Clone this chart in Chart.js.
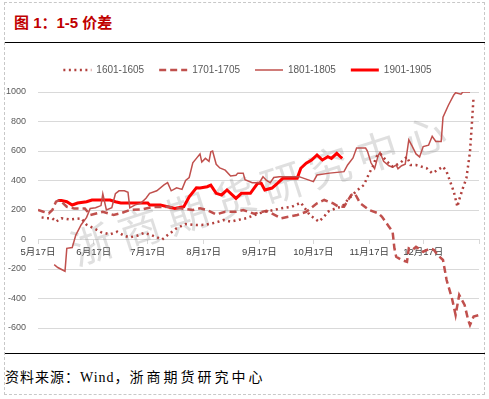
<!DOCTYPE html>
<html>
<head>
<meta charset="utf-8">
<script src="https://cdn.jsdelivr.net/npm/chart.js@4/dist/chart.umd.min.js"></script>
<style>
  body { margin: 0; background: #fff; }
  #frame { position: absolute; left: 4px; top: 2px; width: 481px; height: 393px; border: 1px dashed #c8c8c8; box-sizing: border-box; }
  #title { position: absolute; left: 14px; top: 11px; font: bold 15px "Liberation Sans", "Noto Sans CJK SC", sans-serif; color: #c00000; }
  .rule { position: absolute; left: 5px; width: 480px; border-top: 1.5px solid #000; }
  #wrap { position: absolute; left: 0; top: 45px; width: 489px; height: 305px; }
  #source { position: absolute; left: 5px; top: 366px; font: 14px "Liberation Serif", "Noto Sans CJK SC", serif; color: #000; white-space: nowrap; }
  #source .a { letter-spacing: 1px; }
  #source .b { letter-spacing: 3px; }
</style>
</head>
<body>
<div id="frame"></div>
<div id="title">图 1：1-5 价差</div>
<div class="rule" style="top:42px"></div>
<div id="wrap"><canvas id="spreadChart" width="489" height="305"></canvas></div>
<div class="rule" style="top:353px"></div>
<div id="source"><span class="a">资料来源：Wind，</span><span class="b">浙商期货研究中心</span></div>
<script>
// x = days since 5月17日
const tickDays = [0, 31, 61, 92, 123, 153, 184, 214, 245];
const tickLabels = ['5月17日', '6月17日', '7月17日', '8月17日', '9月17日', '10月17日', '11月17日', '12月17日', ''];

const days1601 = [2, 5, 8, 10, 13, 18, 21, 24, 27, 31, 35, 40, 44, 48, 51, 55, 59, 63, 66, 69, 72, 77, 82, 88, 93, 97, 100, 103, 107, 111, 116, 118, 123, 127, 131, 135, 141, 146, 151, 156, 159, 161, 166, 169, 172, 177, 181, 184, 186, 188, 190, 194, 197, 201, 205, 207, 210, 213, 216, 219, 222, 225, 227, 229, 231, 233, 234, 236, 238, 240, 241, 242];
const vals1601 = [150, 144, 144, 121, 144, 135, 140, 144, 100, 76, 50, 35, 53, 25, 15, 25, 45, 30, 15, 0, 30, 76, 105, 98, 100, 110, 120, 132, 121, 132, 145, 155, 178, 190, 200, 211, 222, 250, 166, 121, 155, 188, 215, 222, 268, 330, 369, 449, 494, 561, 584, 527, 494, 517, 561, 505, 505, 494, 483, 449, 471, 494, 460, 392, 324, 222, 270, 347, 415, 595, 776, 968];

const days1701 = [0, 3, 6, 8, 10, 12, 16, 20, 26, 29, 33, 36, 42, 46, 51, 58, 64, 72, 79, 86, 90, 94, 99, 104, 110, 114, 120, 127, 135, 144, 149, 155, 159, 164, 167, 170, 174, 176, 179, 184, 189, 191, 195, 197, 198, 199, 202, 205, 206, 208, 210, 214, 218, 220, 222, 225, 227, 230, 232, 234, 237, 239, 240, 242, 245];
const vals1701 = [200, 188, 178, 200, 256, 268, 222, 211, 211, 166, 178, 188, 166, 178, 200, 205, 220, 222, 211, 200, 211, 200, 170, 188, 188, 200, 175, 195, 144, 166, 188, 245, 268, 245, 222, 222, 302, 313, 245, 200, 178, 155, 87, 53, -60, -117, -139, -151, -60, -71, -49, -83, -60, -71, -105, -139, -275, -400, -512, -376, -444, -546, -580, -523, -512];

const days1801 = [9, 11, 15, 16, 19, 21, 24, 27, 29, 32, 35, 36, 38, 41, 43, 45, 48, 50, 51, 54, 57, 60, 62, 66, 70, 72, 74, 77, 80, 82, 84, 86, 88, 90, 91, 93, 95, 96, 97, 99, 101, 104, 107, 110, 111, 114, 115, 119, 123, 125, 127, 129, 131, 134, 145, 153, 155, 162, 170, 172, 175, 177, 182, 183, 185, 187, 189, 190, 192, 195, 197, 199, 200, 202, 204, 205, 206, 208, 210, 212, 214, 217, 219, 221, 224, 225, 228, 231, 232, 235, 236, 240];
const vals1801 = [-170, -190, -215, -60, -55, 30, 100, 150, 210, 215, 230, 310, 200, 215, 310, 330, 330, 320, 215, 235, 245, 280, 313, 330, 370, 385, 330, 350, 340, 400, 420, 520, 550, 580, 525, 550, 530, 595, 600, 510, 485, 470, 430, 435, 450, 450, 405, 385, 385, 425, 400, 385, 420, 426, 426, 392, 437, 450, 460, 505, 553, 620, 620, 600, 520, 480, 570, 590, 530, 500, 490, 505, 480, 500, 510, 590, 675, 630, 580, 560, 630, 640, 700, 665, 665, 830, 910, 980, 995, 985, 1000, 1000];

const days1901 = [11, 13, 16, 19, 22, 27, 30, 34, 40, 43, 46, 53, 61, 62, 68, 76, 81, 84, 88, 90, 94, 96, 99, 102, 105, 110, 113, 118, 122, 124, 126, 130, 133, 136, 144, 146, 149, 152, 155, 157, 158, 161, 163, 166, 168, 169];
const vals1901 = [265, 265, 256, 234, 247, 256, 268, 268, 268, 256, 247, 247, 247, 234, 234, 211, 222, 290, 350, 349, 358, 369, 313, 302, 336, 279, 313, 313, 381, 381, 336, 349, 381, 415, 415, 483, 517, 539, 573, 550, 539, 561, 550, 584, 561, 550];

const toPoints = (xs, ys) => xs.map((d, i) => ({ x: d, y: ys[i] }));

const watermark = {
    id: 'watermark',
    afterInit(chart) {
        // leave a gap between the legend and the plot
        const fit = chart.legend.fit;
        chart.legend.fit = function () { fit.call(this); this.height += 7; };
    },
    afterLayout(chart) {
        // legend sits a little right of centre in the original
        chart.legend.left += 8;
        chart.legend.right += 8;
    },
    beforeDatasetsDraw(chart) {
        const ctx = chart.ctx;
        ctx.save();
        ctx.translate(262, 144);
        ctx.rotate(-18 * Math.PI / 180);
        ctx.font = '42px "Noto Sans CJK SC"';
        ctx.letterSpacing = '8px';
        ctx.fillStyle = 'rgba(150, 150, 150, 0.3)';
        ctx.textAlign = 'center';
        ctx.textBaseline = 'middle';
        ctx.fillText('浙商期货研究中心', 0, 0);
        ctx.restore();
    }
};

const ctx = document.getElementById('spreadChart').getContext('2d');
new Chart(ctx, {
    type: 'line',
    data: {
        datasets: [
            { label: '1601-1605', data: toPoints(days1601, vals1601), borderColor: '#b2403d', borderWidth: 2.5, borderDash: [2, 3.5] },
            { label: '1701-1705', data: toPoints(days1701, vals1701), borderColor: '#c0504d', borderWidth: 2.5, borderDash: [7, 4] },
            { label: '1801-1805', data: toPoints(days1801, vals1801), borderColor: '#c0504d', borderWidth: 1.5 },
            { label: '1901-1905', data: toPoints(days1901, vals1901), borderColor: '#ff0000', borderWidth: 3 }
        ]
    },
    options: {
        responsive: false,
        animation: false,
        layout: { padding: { left: 0, right: 10, top: 5, bottom: 22 } },
        elements: { point: { radius: 0 }, line: { tension: 0, fill: false } },
        plugins: {
            tooltip: { enabled: false },
            legend: {
                position: 'top',
                labels: {
                    usePointStyle: true, pointStyle: 'line', pointStyleWidth: 28,
                    padding: 15, color: '#595959',
                    font: { family: '"Liberation Sans", Arial', size: 10 },
                    generateLabels: chart => chart.data.datasets.map((ds, i) => ({
                        text: ds.label, datasetIndex: i, pointStyle: 'line',
                        strokeStyle: ds.borderColor, fillStyle: ds.borderColor,
                        lineWidth: ds.borderWidth, lineDash: ds.borderDash || [],
                        fontColor: '#595959'
                    }))
                }
            }
        },
        scales: {
            x: {
                type: 'linear', min: 0, max: 245, position: { y: 0 },
                afterBuildTicks: s => { s.ticks = tickDays.map(v => ({ value: v })); },
                ticks: {
                    autoSkip: false, maxRotation: 0, padding: 3, color: '#404040',
                    font: { family: '"Liberation Sans", "Noto Sans CJK SC"', size: 9.5 },
                    callback: v => tickLabels[tickDays.indexOf(v)]
                },
                grid: { drawOnChartArea: false, tickLength: 4, color: '#d9d9d9' },
                border: { color: '#d9d9d9' }
            },
            y: {
                min: -600, max: 1000,
                afterFit: s => { s.width = 38; },
                ticks: {
                    stepSize: 200, padding: 12, color: '#595959',
                    font: { family: '"Liberation Sans", Arial', size: 9 },
                    callback: v => String(v)
                },
                grid: { color: '#d9d9d9', drawTicks: false },
                border: { display: false }
            }
        }
    },
    plugins: [watermark]
});
</script>
</body>
</html>
